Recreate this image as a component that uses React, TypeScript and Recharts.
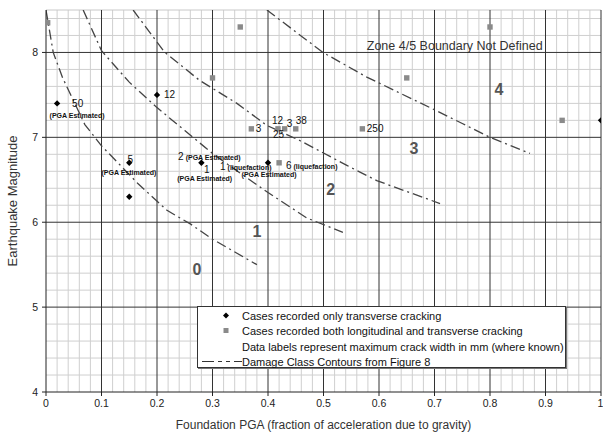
import React from 'react';
import { ComposedChart, XAxis, YAxis, Line, Scatter, ReferenceLine } from 'recharts';

// ---- data ----
const xTicks = [0, 0.1, 0.2, 0.3, 0.4, 0.5, 0.6, 0.7, 0.8, 0.9, 1];
const yTicks = [4, 5, 6, 7, 8];
const xMinor = [0.02, 0.04, 0.06, 0.08, 0.12, 0.14, 0.16, 0.18, 0.22, 0.24, 0.26, 0.28, 0.32, 0.34, 0.36, 0.38, 0.42, 0.44, 0.46, 0.48, 0.52, 0.54, 0.56, 0.58, 0.62, 0.64, 0.66, 0.68, 0.72, 0.74, 0.76, 0.78, 0.82, 0.84, 0.86, 0.88, 0.92, 0.94, 0.96, 0.98];
const yMinor = [4.2, 4.4, 4.6, 4.8, 5.2, 5.4, 5.6, 5.8, 6.2, 6.4, 6.6, 6.8, 7.2, 7.4, 7.6, 7.8, 8.2, 8.4];

// cases recorded only transverse cracking
const transverseOnly = [
  { x: 0.02, y: 7.4 },
  { x: 0.2, y: 7.5 },
  { x: 0.15, y: 6.7 },
  { x: 0.15, y: 6.3 },
  { x: 0.28, y: 6.7 },
  { x: 0.4, y: 6.7 },
  { x: 1.0, y: 7.2 },
];

// cases recorded both longitudinal and transverse cracking
const bothCracking = [
  { x: 0.003, y: 8.35 },
  { x: 0.35, y: 8.3 },
  { x: 0.3, y: 7.7 },
  { x: 0.37, y: 7.1 },
  { x: 0.418, y: 7.1 },
  { x: 0.43, y: 7.1 },
  { x: 0.45, y: 7.1 },
  { x: 0.57, y: 7.1 },
  { x: 0.42, y: 6.7 },
  { x: 0.65, y: 7.7 },
  { x: 0.8, y: 8.3 },
  { x: 0.93, y: 7.2 },
];

// damage class contours
const contour01 = [
  { x: 0, y: 8.5 }, { x: 0.013, y: 8.0 }, { x: 0.03, y: 7.7 }, { x: 0.07, y: 7.15 },
  { x: 0.1, y: 6.9 }, { x: 0.165, y: 6.46 }, { x: 0.218, y: 6.14 }, { x: 0.26, y: 5.98 },
  { x: 0.3, y: 5.8 }, { x: 0.38, y: 5.5 },
];
const contour12 = [
  { x: 0.067, y: 8.5 }, { x: 0.1, y: 8.02 }, { x: 0.15, y: 7.65 }, { x: 0.2, y: 7.35 },
  { x: 0.25, y: 7.08 }, { x: 0.3, y: 6.81 }, { x: 0.345, y: 6.6 }, { x: 0.4, y: 6.35 },
  { x: 0.47, y: 6.05 }, { x: 0.535, y: 5.88 },
];
const contour23 = [
  { x: 0.157, y: 8.5 }, { x: 0.214, y: 8.0 }, { x: 0.277, y: 7.67 }, { x: 0.344, y: 7.4 },
  { x: 0.398, y: 7.14 }, { x: 0.458, y: 6.96 }, { x: 0.542, y: 6.67 }, { x: 0.596, y: 6.49 },
  { x: 0.71, y: 6.22 },
];
const contour34 = [
  { x: 0.398, y: 8.5 }, { x: 0.499, y: 8.0 }, { x: 0.578, y: 7.71 }, { x: 0.638, y: 7.52 },
  { x: 0.692, y: 7.35 }, { x: 0.751, y: 7.16 }, { x: 0.8, y: 7.0 }, { x: 0.872, y: 6.81 },
];

// crack width labels (mm)
const numLabels = [
  { x: 0.047, y: 7.4, text: '50' },
  { x: 0.2126, y: 7.5, text: '12' },
  { x: 0.147, y: 6.74, text: '5' },
  { x: 0.2847, y: 6.62, text: '1' },
  { x: 0.378, y: 7.1, text: '3' },
  { x: 0.407, y: 7.2, text: '12' },
  { x: 0.434, y: 7.165, text: '3' },
  { x: 0.409, y: 7.035, text: '25' },
  { x: 0.45, y: 7.2, text: '38' },
  { x: 0.578, y: 7.1, text: '250' },
];
const noteLabels = [
  { x: 0.056, y: 7.26, text: '(PGA Estimated)' },
  { x: 0.1495, y: 6.59, text: '(PGA Estimated)' },
  { x: 0.286, y: 6.51, text: '(PGA Estimated)' },
  { x: 0.402, y: 6.56, text: '(PGA Estimated)' },
];
const mixedLabels = [
  { x: 0.238, y: 6.8, num: '2', note: '(PGA Estimated)' },
  { x: 0.3135, y: 6.685, num: '1', note: '(liquefaction)' },
  { x: 0.4324, y: 6.69, num: '6', note: '(liquefaction)' },
];
const zoneLabels = [
  { x: 0.272, y: 5.45, text: '0' },
  { x: 0.38, y: 5.89, text: '1' },
  { x: 0.513, y: 6.39, text: '2' },
  { x: 0.663, y: 6.87, text: '3' },
  { x: 0.816, y: 7.56, text: '4' },
];
const noteText = [{ x: 0.578, y: 8.082, text: 'Zone 4/5 Boundary Not Defined' }];

const legendItems = [
  'Cases recorded only transverse cracking',
  'Cases recorded both longitudinal and transverse cracking',
  'Data labels represent maximum crack width in mm (where known)',
  'Damage Class Contours from Figure 8',
];

const FONT = '"Liberation Sans", Arial, Helvetica, sans-serif';

const Diamond = (p: any) => {
  const { cx, cy } = p;
  if (cx == null || cy == null) return null;
  const r = 3.2;
  return <polygon points={`${cx},${cy - r} ${cx + r},${cy} ${cx},${cy + r} ${cx - r},${cy}`} fill="#000" />;
};
const Square = (p: any) => {
  const { cx, cy } = p;
  if (cx == null || cy == null) return null;
  return <rect x={cx - 2.7} y={cy - 2.7} width={5.4} height={5.4} fill="#8a8a8a" />;
};
const NumText = (p: any) => (
  <text x={p.cx} y={p.cy} dy="0.35em" fontSize={10} fill="#111" fontFamily={FONT}>{p.payload.text}</text>
);
const NoteText = (p: any) => (
  <text x={p.cx} y={p.cy} dy="0.35em" fontSize={7} fontWeight="bold" textAnchor="middle" fill="#111" fontFamily={FONT}>{p.payload.text}</text>
);
const MixedText = (p: any) => (
  <text x={p.cx} y={p.cy} dy="0.35em" fill="#111" fontFamily={FONT}>
    <tspan fontSize={10}>{p.payload.num}</tspan>
    <tspan fontSize={7} fontWeight="bold" dx={2}>{p.payload.note}</tspan>
  </text>
);
const ZoneText = (p: any) => (
  <text x={p.cx} y={p.cy} dy="0.35em" textAnchor="middle" fontSize={16} fontWeight="bold" fill="#555" fontFamily={FONT}>{p.payload.text}</text>
);
const TitleText = (p: any) => (
  <text x={p.cx} y={p.cy} dy="0.35em" fontSize={12.5} fill="#333" fontFamily={FONT}>{p.payload.text}</text>
);

const fmt = (v: number) => String(v);

export default function App() {
  const dash = '10 4 2 4';
  return (
    <div style={{ position: 'absolute', left: 0, top: 0, width: 603, height: 437, background: '#fff', fontFamily: FONT }}>
      <ComposedChart width={603} height={437} margin={{ top: 10, right: 2, bottom: 0, left: 0 }}>
        <XAxis
          type="number"
          dataKey="x"
          domain={[0, 1]}
          ticks={xTicks}
          tickFormatter={fmt}
          allowDataOverflow
          height={45}
          axisLine={{ stroke: '#222' }}
          tickLine={{ stroke: '#222' }}
          tickSize={4}
          tickMargin={4}
          tick={{ fontSize: 10.5, fill: '#222', fontFamily: FONT }}
          label={{ value: 'Foundation PGA (fraction of acceleration due to gravity)', position: 'insideBottom', offset: 8, fontSize: 12, fill: '#333', fontFamily: FONT }}
        />
        <YAxis
          type="number"
          dataKey="y"
          domain={[4, 8.5]}
          ticks={yTicks}
          allowDataOverflow
          width={46}
          axisLine={{ stroke: '#222' }}
          tickLine={{ stroke: '#222' }}
          tickSize={4}
          tickMargin={4}
          tick={{ fontSize: 10.5, fill: '#222', fontFamily: FONT }}
          label={{
            content: (props: any) => {
              const vb = props.viewBox || { x: 0, y: 10, width: 46, height: 382 };
              const cx = vb.x + 12;
              const cy = vb.y + vb.height / 2;
              return (
                <text x={cx} y={cy} transform={`rotate(-90 ${cx} ${cy})`} textAnchor="middle" dominantBaseline="central" fontSize={13} fill="#333" fontFamily={FONT}>
                  Earthquake Magnitude
                </text>
              );
            },
          }}
        />
        {xMinor.map((v) => (
          <ReferenceLine key={'xm' + v} x={v} stroke="#cfcfcf" strokeWidth={1} />
        ))}
        {yMinor.map((v) => (
          <ReferenceLine key={'ym' + v} y={v} stroke="#cfcfcf" strokeWidth={1} />
        ))}
        <ReferenceLine y={8.5} stroke="#c8c8c8" strokeWidth={1} />
        {xTicks.slice(1).map((v) => (
          <ReferenceLine key={'xM' + v} x={v} stroke="#333" strokeWidth={1} />
        ))}
        {yTicks.slice(1).map((v) => (
          <ReferenceLine key={'yM' + v} y={v} stroke="#333" strokeWidth={1} />
        ))}
        <Line data={contour01} dataKey="y" type="linear" stroke="#444" strokeWidth={1.3} strokeDasharray={dash} dot={false} isAnimationActive={false} />
        <Line data={contour12} dataKey="y" type="linear" stroke="#444" strokeWidth={1.3} strokeDasharray={dash} dot={false} isAnimationActive={false} />
        <Line data={contour23} dataKey="y" type="linear" stroke="#444" strokeWidth={1.3} strokeDasharray={dash} dot={false} isAnimationActive={false} />
        <Line data={contour34} dataKey="y" type="linear" stroke="#444" strokeWidth={1.3} strokeDasharray={dash} dot={false} isAnimationActive={false} />
        <Scatter data={bothCracking} dataKey="y" shape={Square} isAnimationActive={false} />
        <Scatter data={transverseOnly} dataKey="y" shape={Diamond} isAnimationActive={false} />
        <Scatter data={numLabels} dataKey="y" shape={NumText} isAnimationActive={false} />
        <Scatter data={noteLabels} dataKey="y" shape={NoteText} isAnimationActive={false} />
        <Scatter data={mixedLabels} dataKey="y" shape={MixedText} isAnimationActive={false} />
        <Scatter data={zoneLabels} dataKey="y" shape={ZoneText} isAnimationActive={false} />
        <Scatter data={noteText} dataKey="y" shape={TitleText} isAnimationActive={false} />
      </ComposedChart>
      <div
        style={{
          position: 'absolute',
          left: 197,
          top: 306,
          width: 369,
          height: 62,
          background: '#fff',
          border: '1px solid #333',
          boxShadow: '1px 1px 0 #777',
          boxSizing: 'border-box',
        }}
      >
        <svg width={369} height={62} style={{ position: 'absolute', left: 0, top: 0 }}>
          <polygon points="28,5.5 31,8.5 28,11.5 25,8.5" fill="#000" />
          <rect x={25.5} y={21} width={5} height={5} fill="#8a8a8a" />
          <line x1={4} y1={54.5} x2={44} y2={54.5} stroke="#333" strokeWidth={1.2} strokeDasharray="12 4 4 4 4 4" />
          {legendItems.map((t, i) => (
            <text key={t} x={44} y={8.5 + i * 15.5} dominantBaseline="central" fontSize={11} fill="#111" fontFamily={FONT}>
              {t}
            </text>
          ))}
        </svg>
      </div>
    </div>
  );
}
